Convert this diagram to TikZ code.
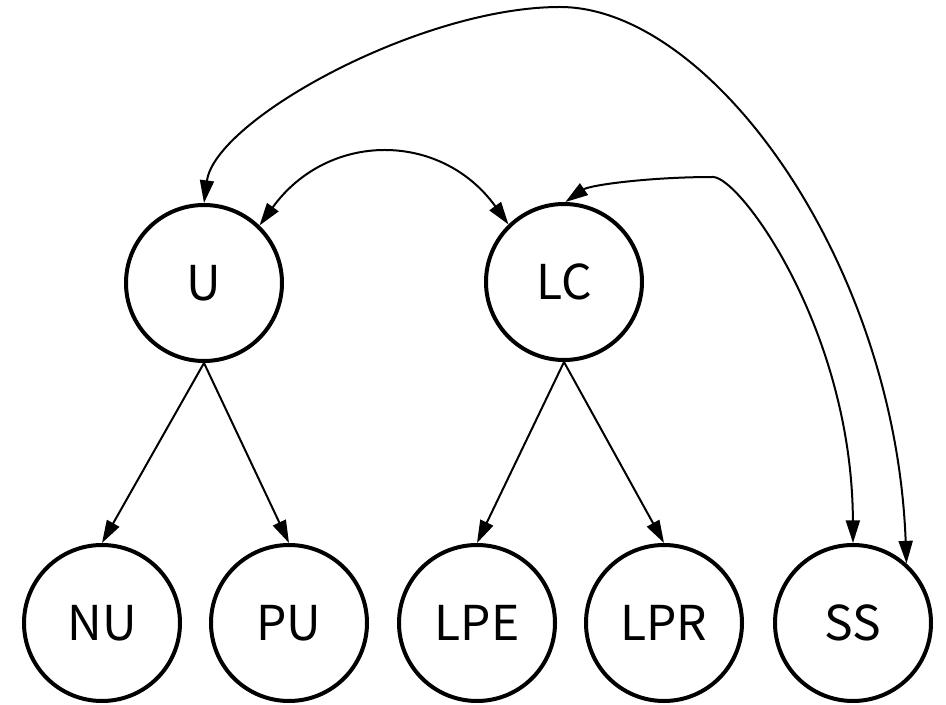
\documentclass[tikz,border=0pt]{standalone}
\usepackage{fontspec}
\setmainfont{Noto Sans CJK JP}
\usetikzlibrary{arrows.meta}
\tikzset{
  state/.style={circle, draw=black, line width=3pt, minimum size=117pt, inner sep=0pt,
    font=\fontsize{36}{40}\selectfont},
  edge/.style={draw=black, line width=1.5pt},
  >={Triangle[length=17pt,width=10.5pt]}
}
\begin{document}
\begin{tikzpicture}[x=0.75pt,y=-0.75pt]
\useasboundingbox (0,0) rectangle (946,705);
\node[state] (U)   at (204,283) {U};
\node[state] (LC)  at (564,282) {LC};
\node[state] (NU)  at (102,623) {NU};
\node[state] (PU)  at (289,623) {PU};
\node[state] (LPE) at (477,623) {LPE};
\node[state] (LPR) at (664,623) {LPR};
\node[state] (SS)  at (853,623) {SS};
\draw[edge,->] (U.south) -- (NU.north);
\draw[edge,->] (U.south) -- (PU.north);
\draw[edge,->] (LC.south) -- (LPE.north);
\draw[edge,->] (LC.south) -- (LPR.north);
\draw[edge,<->] (U.46) .. controls (328,131) and (441,131) .. (LC.134);
\draw[edge,<->] (LC.89) .. controls (590,185) and (650,177) .. (713,177)
  .. controls (740,177) and (852,330) .. (SS.north);
\draw[edge,<->] (SS.48) .. controls (895,260) and (710,7) .. (560,7)
  .. controls (420,7) and (215,120) .. (U.north);
\end{tikzpicture}
\end{document}
